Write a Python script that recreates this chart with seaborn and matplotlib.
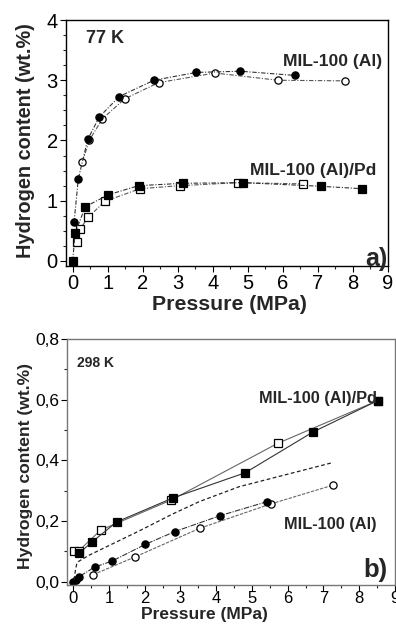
import numpy as np
import pandas as pd
import matplotlib
matplotlib.use("Agg")
import matplotlib.pyplot as plt
import matplotlib.ticker as mticker
import seaborn as sns

sns.set_style("ticks")
plt.rcParams['font.family'] = ['Liberation Sans', 'DejaVu Sans']

########## data ##########
# a) 77 K
al77_ads_p = [0.04, 0.16, 0.43, 0.76, 1.33, 2.32, 3.53, 4.79, 6.34]
al77_ads_h = [0.64, 1.36, 2.02, 2.39, 2.73, 3.00, 3.13, 3.15, 3.08]
al77_des_p = [0.28, 0.48, 0.85, 1.48, 2.45, 4.06, 5.86, 7.78]
al77_des_h = [1.65, 2.01, 2.36, 2.69, 2.96, 3.12, 3.00, 2.99]
pd77_ads_p = [0.0, 0.07, 0.36, 1.02, 1.88, 3.15, 4.87, 7.09, 8.25]
pd77_ads_h = [0.0, 0.46, 0.90, 1.10, 1.25, 1.29, 1.30, 1.24, 1.20]
pd77_des_p = [0.11, 0.21, 0.45, 0.92, 1.92, 3.05, 4.72, 6.57]
pd77_des_h = [0.32, 0.53, 0.73, 0.99, 1.20, 1.25, 1.30, 1.28]

# b) 298 K
pd298_ads_p = [0.16, 0.54, 1.22, 2.79, 4.81, 6.70, 8.52]
pd298_ads_h = [0.093, 0.132, 0.197, 0.276, 0.359, 0.493, 0.597]
pd298_des_p = [0.03, 0.16, 0.77, 2.74, 5.72, 8.52]
pd298_des_h = [0.102, 0.102, 0.170, 0.269, 0.456, 0.597]
al298_ads_p = [0.0, 0.07, 0.16, 0.60, 1.09, 2.02, 2.84, 4.12, 5.43]
al298_ads_h = [0.0, 0.005, 0.016, 0.048, 0.068, 0.123, 0.165, 0.218, 0.264]
al298_des_p = [0.56, 1.74, 3.54, 5.52, 7.26]
al298_des_h = [0.023, 0.082, 0.176, 0.256, 0.318]
fit_p = [0.03, 0.06, 0.10, 0.14, 0.46, 1.86, 2.78, 3.53, 4.64, 7.24]
fit_h = [0.006, 0.035, 0.058, 0.066, 0.088, 0.168, 0.223, 0.264, 0.313, 0.392]


def series(ax, p, h, marker, filled, ls, lc):
    df = pd.DataFrame({'p': p, 'h': h})
    sns.lineplot(data=df, x='p', y='h', ax=ax, sort=False, estimator=None,
                 color=lc, linewidth=0.8, linestyle=ls, marker=marker,
                 markersize=5.2, markeredgewidth=0.9,
                 markerfacecolor='black' if filled else 'white',
                 markeredgecolor='black')


def style_axes(ax, spine_col):
    for s in ax.spines.values():
        s.set_color(spine_col)
        s.set_linewidth(1.0)
    ax.tick_params(which='major', direction='out', length=4, width=0.8,
                   top=False, right=False, colors='black')
    ax.tick_params(which='minor', direction='out', length=2.5, width=0.8,
                   top=False, right=False)


fig = plt.figure(figsize=(3.96, 6.24), dpi=100)

# ---------------- a) ----------------
ax1 = fig.add_axes([66/396, 1-266/624, 322/396, 246/624])
dd = (4, 1.5, 1, 1.5)
series(ax1, al77_des_p, al77_des_h, 'o', False, (0, dd), '#555555')
series(ax1, al77_ads_p, al77_ads_h, 'o', True, (0, dd), '#333333')
series(ax1, pd77_des_p, pd77_des_h, 's', False, (0, dd), '#555555')
series(ax1, pd77_ads_p, pd77_ads_h, 's', True, (0, dd), '#333333')
ax1.set_xlim(-0.19, 9)
ax1.set_ylim(-0.083, 4)
ax1.xaxis.set_major_locator(mticker.MultipleLocator(1))
ax1.xaxis.set_minor_locator(mticker.MultipleLocator(0.5))
ax1.yaxis.set_major_locator(mticker.MultipleLocator(1))
ax1.yaxis.set_minor_locator(mticker.MultipleLocator(0.25))
style_axes(ax1, 'black')
ax1.tick_params(labelsize=14.5, pad=2)
ax1.set_xlabel('Pressure (MPa)', fontsize=15.3, fontweight='bold')
ax1.set_ylabel('Hydrogen content (wt.%)', fontsize=14.3, fontweight='bold')
ax1.xaxis.set_label_coords(0.509, -0.118)
ax1.yaxis.set_label_coords(-0.096, 0.508)
ax1.text(0.062, 0.923, '77 K', transform=ax1.transAxes, fontsize=13,
         fontweight='bold', ha='left', va='center')
ax1.text(0.981, 0.833, 'MIL-100 (Al)', transform=ax1.transAxes, fontsize=12.6,
         fontweight='bold', ha='right', va='center')
ax1.text(0.963, 0.39, 'MIL-100 (Al)/Pd', transform=ax1.transAxes, fontsize=12.6,
         fontweight='bold', ha='right', va='center')
ax1.text(0.997, 0.03, 'a)', transform=ax1.transAxes, fontsize=18,
         fontweight='bold', ha='right', va='center')

# ---------------- b) ----------------
ax2 = fig.add_axes([66.7/396, 1-585/624, 328.3/396, 246/624])
series(ax2, pd298_des_p, pd298_des_h, 's', False, '-', '#666666')
series(ax2, pd298_ads_p, pd298_ads_h, 's', True, '-', '#333333')
series(ax2, al298_des_p, al298_des_h, 'o', False, (0, (3, 1.2)), '#666666')
series(ax2, al298_ads_p, al298_ads_h, 'o', True, (0, (5, 1.2, 1, 1.2)), '#333333')
fit_df = pd.DataFrame({'p': fit_p, 'h': fit_h})
sns.lineplot(data=fit_df, x='p', y='h', ax=ax2, sort=False, estimator=None,
             color='#222222', linewidth=0.9, linestyle=(0, (3, 2)))
ax2.set_xlim(-0.18, 9)
ax2.set_ylim(-0.011, 0.8)
ax2.xaxis.set_major_locator(mticker.MultipleLocator(1))
ax2.xaxis.set_minor_locator(mticker.MultipleLocator(0.5))
ax2.yaxis.set_major_locator(mticker.MultipleLocator(0.2))
ax2.yaxis.set_minor_locator(mticker.MultipleLocator(0.1))
ax2.yaxis.set_major_formatter(mticker.FuncFormatter(
    lambda v, pos: f"{v:.1f}".replace('.', ',')))
style_axes(ax2, '#777777')
ax2.tick_params(axis='x', labelsize=12, pad=0)
ax2.tick_params(axis='y', labelsize=12.5, pad=1)
ax2.set_xlabel('Pressure (MPa)', fontsize=12.5, fontweight='bold')
ax2.set_ylabel('Hydrogen content (wt.%)', fontsize=12.6, fontweight='bold')
ax2.xaxis.set_label_coords(0.421, -0.089)
ax2.yaxis.set_label_coords(-0.103, 0.484)
ax2.text(0.031, 0.902, '298 K', transform=ax2.transAxes, fontsize=10,
         fontweight='bold', ha='left', va='center')
ax2.text(0.945, 0.758, 'MIL-100 (Al)/Pd', transform=ax2.transAxes, fontsize=11.8,
         fontweight='bold', ha='right', va='center')
ax2.text(0.945, 0.244, 'MIL-100 (Al)', transform=ax2.transAxes, fontsize=11.8,
         fontweight='bold', ha='right', va='center')
ax2.text(0.976, 0.061, 'b)', transform=ax2.transAxes, fontsize=18.5,
         fontweight='bold', ha='right', va='center')

fig.savefig('out.png', dpi=100)
